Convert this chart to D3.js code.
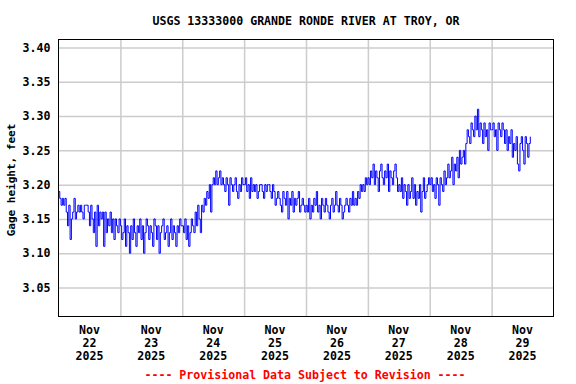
<!DOCTYPE html>
<html>
<head>
<meta charset="utf-8">
<script src="https://cdn.jsdelivr.net/npm/d3@7"></script>
<style>
  html, body { margin: 0; padding: 0; background: #fff; }
  svg { display: block; }
  text { font-family: "DejaVu Sans Mono", "Liberation Mono", monospace; font-weight: bold; }
</style>
</head>
<body>
<svg id="chart" width="576" height="384"></svg>
<script>
// ---- Data (gage height, feet; 30-minute readings starting Nov 22 2025 00:00) ----
const title = "USGS 13333000 GRANDE RONDE RIVER AT TROY, OR";
const yLabel = "Gage height, feet";
const footer = "---- Provisional Data Subject to Revision ----";
const yTicks = [3.05, 3.10, 3.15, 3.20, 3.25, 3.30, 3.35, 3.40];
const dayLabels = ["22", "23", "24", "25", "26", "27", "28", "29"];
const monthLabel = "Nov";
const yearLabel = "2025";

const nov22 = [3.19,3.18,3.17,3.18,3.17,3.18,3.16,3.14,3.17,3.12,3.15,3.16,3.18,3.15,3.16,3.17,3.16,3.17,3.16,3.15,3.17,3.17,3.17,3.16,3.14,3.17,3.15,3.13,3.16,3.11,3.17,3.14,3.16,3.15,3.16,3.11,3.16,3.13,3.15,3.14,3.16,3.13,3.15,3.12,3.15,3.14,3.13,3.15];
const nov23 = [3.14,3.12,3.13,3.15,3.11,3.14,3.13,3.10,3.14,3.12,3.15,3.13,3.11,3.14,3.13,3.15,3.12,3.14,3.10,3.13,3.15,3.14,3.12,3.14,3.13,3.11,3.15,3.14,3.12,3.14,3.10,3.13,3.14,3.15,3.12,3.13,3.14,3.11,3.13,3.15,3.12,3.14,3.13,3.11,3.14,3.13,3.15,3.14];
const nov24 = [3.14,3.13,3.15,3.12,3.14,3.11,3.13,3.15,3.14,3.13,3.16,3.14,3.17,3.15,3.13,3.17,3.16,3.18,3.17,3.19,3.18,3.20,3.16,3.20,3.21,3.20,3.22,3.20,3.21,3.22,3.20,3.21,3.20,3.19,3.21,3.20,3.17,3.21,3.20,3.19,3.20,3.21,3.19,3.18,3.20,3.19,3.21,3.20];
const nov25 = [3.20,3.21,3.19,3.20,3.18,3.21,3.19,3.20,3.19,3.20,3.18,3.19,3.20,3.20,3.19,3.18,3.20,3.19,3.20,3.20,3.19,3.18,3.20,3.19,3.17,3.18,3.19,3.18,3.17,3.16,3.19,3.18,3.17,3.19,3.15,3.18,3.17,3.19,3.16,3.18,3.17,3.18,3.19,3.16,3.17,3.18,3.17,3.16];
const nov26 = [3.17,3.16,3.18,3.15,3.17,3.16,3.18,3.17,3.19,3.16,3.17,3.15,3.18,3.17,3.16,3.18,3.17,3.16,3.15,3.17,3.18,3.16,3.17,3.19,3.17,3.16,3.18,3.17,3.15,3.16,3.17,3.18,3.17,3.16,3.18,3.17,3.19,3.17,3.18,3.17,3.19,3.18,3.20,3.19,3.20,3.19,3.21,3.20];
const nov27 = [3.21,3.20,3.22,3.21,3.23,3.20,3.22,3.21,3.19,3.22,3.23,3.21,3.20,3.22,3.21,3.23,3.19,3.22,3.21,3.20,3.22,3.23,3.21,3.19,3.20,3.19,3.21,3.18,3.20,3.19,3.17,3.20,3.18,3.19,3.21,3.18,3.20,3.17,3.19,3.18,3.20,3.16,3.19,3.21,3.18,3.19,3.20,3.21];
const nov28 = [3.20,3.21,3.19,3.20,3.18,3.21,3.20,3.17,3.21,3.20,3.19,3.22,3.20,3.21,3.23,3.21,3.22,3.24,3.20,3.23,3.22,3.24,3.21,3.25,3.23,3.24,3.25,3.23,3.26,3.28,3.27,3.26,3.29,3.28,3.27,3.30,3.28,3.31,3.27,3.29,3.28,3.26,3.29,3.27,3.28,3.25,3.29,3.28];
const nov29 = [3.28,3.29,3.27,3.28,3.25,3.29,3.28,3.27,3.29,3.28,3.26,3.28,3.25,3.27,3.26,3.28,3.24,3.26,3.25,3.27,3.23,3.22,3.26,3.27,3.25,3.23,3.27,3.26,3.24,3.26,3.27];

const startTime = Date.UTC(2025, 10, 22, 0, 0);
const endTime = Date.UTC(2025, 10, 30, 0, 0);
const stepMs = 30 * 60 * 1000;

const values = [].concat(nov22, nov23, nov24, nov25, nov26, nov27, nov28, nov29);
const series = values.map((v, i) => ({ t: new Date(startTime + i * stepMs), v }));

// ---- Layout ----
const svg = d3.select("#chart");
const plotL = 58.5, plotR = 553.5, plotT = 39.5, plotB = 316.5;

const x = d3.scaleUtc().domain([new Date(startTime), new Date(endTime)]).range([plotL, plotR]);
const y = d3.scaleLinear().domain([3.0077, 3.4117]).range([plotB, plotT]);

// Title
svg.append("text")
  .attr("x", (plotL + plotR) / 2).attr("y", 21)
  .attr("text-anchor", "middle").attr("dominant-baseline", "middle")
  .attr("font-size", "11.6px").attr("fill", "#000")
  .text(title);

// Horizontal gridlines + y tick labels via axis
const yAxis = svg.append("g")
  .attr("transform", `translate(${plotL},0)`)
  .call(d3.axisLeft(y).tickValues(yTicks).tickFormat(d3.format(".2f"))
        .tickSize(-(plotR - plotL)).tickPadding(8));
yAxis.select(".domain").remove();
yAxis.selectAll(".tick line").attr("stroke", "#cccccc").attr("stroke-width", 1.5);
yAxis.selectAll(".tick text")
  .attr("font-size", "11.6px").attr("fill", "#000")
  .attr("font-family", "DejaVu Sans Mono, monospace").attr("font-weight", "bold");

// Vertical gridlines at midnight boundaries
const midnights = d3.utcDay.range(new Date(startTime + 1), new Date(endTime));
const xGrid = svg.append("g")
  .attr("transform", `translate(0,${plotB})`)
  .call(d3.axisBottom(x).tickValues(midnights).tickFormat("").tickSize(-(plotB - plotT)));
xGrid.select(".domain").remove();
xGrid.selectAll(".tick line").attr("stroke", "#cccccc").attr("stroke-width", 1.5);

// X labels at noon of each day
const noons = dayLabels.map((d, i) => new Date(startTime + (i + 0.5) * 86400000));
const xl = svg.append("g").selectAll("text").data(noons).join("text")
  .attr("x", d => x(d)).attr("y", 330)
  .attr("text-anchor", "middle").attr("dominant-baseline", "middle")
  .attr("font-size", "11.6px").attr("fill", "#000");
xl.append("tspan").attr("x", d => x(d)).attr("dy", 0).text(monthLabel);
xl.append("tspan").attr("x", d => x(d)).attr("dy", 13).text((d, i) => dayLabels[i]);
xl.append("tspan").attr("x", d => x(d)).attr("dy", 13).text(yearLabel);

// Data line (stepped, like the quantized gage record)
const line = d3.line().x(d => x(d.t)).y(d => y(d.v)).curve(d3.curveStepAfter);
svg.append("path").datum(series)
  .attr("fill", "none").attr("stroke", "#0000ff").attr("stroke-width", 1)
  .attr("d", line);

// Frame
svg.append("rect")
  .attr("x", plotL).attr("y", plotT).attr("width", plotR - plotL).attr("height", plotB - plotT)
  .attr("fill", "none").attr("stroke", "#000").attr("stroke-width", 1);

// Y-axis label
svg.append("text")
  .attr("transform", `translate(12,${(plotT + plotB) / 2 + 2}) rotate(-90)`)
  .attr("text-anchor", "middle").attr("dominant-baseline", "middle")
  .attr("font-size", "11px").attr("fill", "#000")
  .text(yLabel);

// Footer
svg.append("text")
  .attr("x", 305).attr("y", 375)
  .attr("text-anchor", "middle").attr("dominant-baseline", "middle")
  .attr("font-size", "11.6px").attr("fill", "#ff0000")
  .text(footer);
</script>
</body>
</html>
